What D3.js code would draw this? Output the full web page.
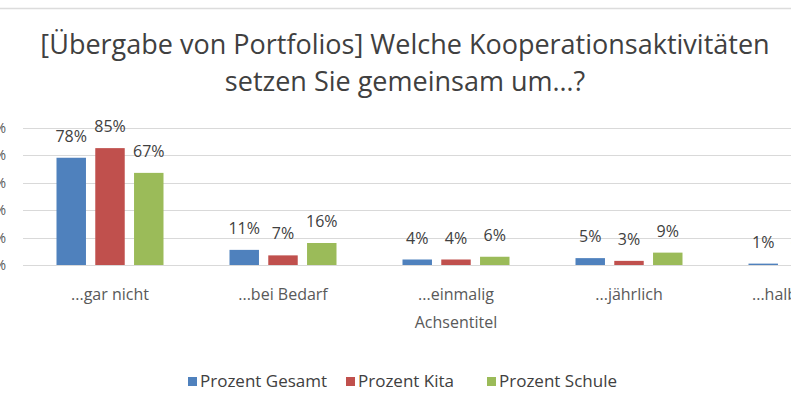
<!DOCTYPE html>
<html><head><meta charset="utf-8">
<script src="https://cdn.jsdelivr.net/npm/d3@7"></script>
<style>html,body{margin:0;padding:0;background:#fff;overflow:hidden}svg{display:block}</style>
</head><body>
<svg id="c" width="791" height="405"></svg>
<script>
const categories = ["...gar nicht", "...bei Bedarf", "...einmalig", "...jährlich", "...halbjährlich"];
const seriesNames = ["Prozent Gesamt", "Prozent Kita", "Prozent Schule"];
const gesamt = [78, 11, 4, 5, 1];
const kita = [85, 7, 4, 3, 0];
const schule = [67, 16, 6, 9, 1];
const yTicks = [0, 20, 40, 60, 80, 100];
const titleLines = ["[Übergabe von Portfolios] Welche Kooperationsaktivitäten", "setzen Sie gemeinsam um…?"];
const axisTitle = "Achsentitel";
const colors = ["#4F81BD", "#C0504D", "#9BBB59"];

const series = [gesamt, kita, schule];
const font = "'Open Sans', sans-serif";
const svg = d3.select("#c");

// top border line
svg.append("line").attr("x1", 0).attr("x2", 791).attr("y1", 8.5).attr("y2", 8.5)
  .attr("stroke", "#dcdcdc").attr("stroke-width", 1.5);

const x0 = d3.scaleBand().domain(categories).range([23.5, 23.5 + 173 * categories.length]).paddingInner(0).paddingOuter(0);
const x1 = d3.scaleBand().domain(seriesNames).range([33, 140]).paddingInner(0.24);
const y = d3.scaleLinear().domain([0, 100]).range([265, 127.5]);

// gridlines
svg.append("g").selectAll("line").data(yTicks).join("line")
  .attr("x1", 23).attr("x2", 800)
  .attr("y1", d => Math.round(y(d)) + 0.5).attr("y2", d => Math.round(y(d)) + 0.5)
  .attr("stroke", "#d9d9d9").attr("stroke-width", 1);

// y tick labels (mostly cropped)
svg.append("g").selectAll("text").data(yTicks).join("text")
  .attr("x", 6).attr("y", d => y(d) + 5).attr("text-anchor", "end")
  .attr("font-family", font).attr("font-size", 14).attr("fill", "#595959")
  .text(d => d + "%");

// bars
const groups = svg.append("g").selectAll("g").data(categories).join("g")
  .attr("transform", c => `translate(${x0(c)},0)`);
groups.each(function(c, ci) {
  const g = d3.select(this);
  seriesNames.forEach((s, si) => {
    const v = series[si][ci];
    g.append("rect").attr("x", x1(s)).attr("width", x1.bandwidth())
      .attr("y", y(v)).attr("height", y(0) - y(v)).attr("fill", colors[si]);
    g.append("text").attr("x", x1(s) + x1.bandwidth() / 2).attr("y", y(v) - 16)
      .attr("text-anchor", "middle").attr("font-family", font).attr("font-size", 16)
      .attr("fill", "#404040").text(v + "%");
  });
});

// x axis labels
svg.append("g").selectAll("text").data(categories).join("text")
  .attr("x", c => x0(c) + 86.5).attr("y", 300).attr("text-anchor", "middle")
  .attr("font-family", font).attr("font-size", 16).attr("fill", "#595959")
  .text(c => c);

svg.append("text").attr("x", 456).attr("y", 328).attr("text-anchor", "middle")
  .attr("font-family", font).attr("font-size", 16).attr("fill", "#595959").text(axisTitle);

// title
svg.append("g").selectAll("text").data(titleLines).join("text")
  .attr("x", 405).attr("y", (d, i) => 54 + i * 37).attr("text-anchor", "middle")
  .attr("font-family", font).attr("font-size", 27).attr("fill", "#404040").text(d => d);

// legend
const legX = [188, 346, 487];
const leg = svg.append("g").selectAll("g").data(seriesNames).join("g")
  .attr("transform", (d, i) => `translate(${legX[i]},377)`);
leg.append("rect").attr("width", 9).attr("height", 9).attr("fill", (d, i) => colors[i]);
leg.append("text").attr("x", 12).attr("y", 10).attr("font-family", font).attr("font-size", 17)
  .attr("fill", "#404040").text(d => d);
</script>
</body></html>
